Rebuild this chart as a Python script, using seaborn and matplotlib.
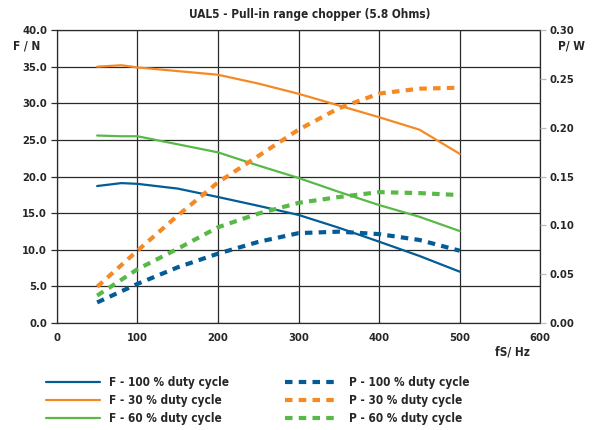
import matplotlib.pyplot as plt
import matplotlib as mpl
from matplotlib import font_manager
import pandas as pd
import seaborn as sns

sns.set_style("white")

# a narrow bold face is closest to the original DIN-like lettering
names = {f.name for f in font_manager.fontManager.ttflist}
narrow = [f for f in font_manager.fontManager.ttflist
          if f.name == 'DejaVu Sans' and f.stretch == 'condensed']
if 'Liberation Sans Narrow' in names:
    mpl.rcParams['font.family'] = ['Liberation Sans Narrow', 'DejaVu Sans']
elif narrow:
    mpl.rcParams['font.family'] = ['DejaVu Sans']
    mpl.rcParams['font.stretch'] = 'condensed'
else:
    mpl.rcParams['font.family'] = ['Roboto', 'DejaVu Sans']
mpl.rcParams['font.weight'] = 'bold'
mpl.rcParams['font.size'] = 8

# force curves (left axis, N)
freq_f = [50, 80, 100, 150, 200, 250, 300, 350, 400, 450, 500]
force_100 = [18.7, 19.1, 19.0, 18.35, 17.2, 16.0, 14.75, 13.0, 11.1, 9.15, 7.0]
force_30 = [35.0, 35.2, 34.9, 34.4, 33.9, 32.7, 31.3, 29.7, 28.1, 26.4, 23.1]
force_60 = [25.6, 25.5, 25.5, 24.4, 23.3, 21.5, 19.8, 17.9, 16.1, 14.5, 12.55]

# power curves (right axis, W)
freq_p = [50, 100, 150, 200, 250, 300, 350, 400, 450, 500]
power_100 = [0.021, 0.040, 0.057, 0.071, 0.083, 0.092, 0.0935, 0.091, 0.085, 0.074]
power_30 = [0.037, 0.074, 0.110, 0.144, 0.171, 0.198, 0.220, 0.235, 0.240, 0.241]
power_60 = [0.028, 0.055, 0.076, 0.098, 0.112, 0.123, 0.129, 0.134, 0.133, 0.131]

blue = '#035c96'
orange = '#f58a25'
green = '#58b947'

fig = plt.figure(figsize=(6.05, 4.3), dpi=100)
ax = fig.add_axes([0.094, 0.249, 0.799, 0.681])
ax2 = ax.twinx()

df_f = pd.DataFrame({'freq': freq_f, 'F100': force_100, 'F30': force_30, 'F60': force_60})
df_p = pd.DataFrame({'freq': freq_p, 'P100': power_100, 'P30': power_30, 'P60': power_60})

for col, c, lab in [('F100', blue, 'F - 100 % duty cycle'),
                    ('F30', orange, 'F - 30 % duty cycle'),
                    ('F60', green, 'F - 60 % duty cycle')]:
    sns.lineplot(data=df_f, x='freq', y=col, color=c, linewidth=1.6, ax=ax, label=lab)
for col, c, lab in [('P100', blue, 'P - 100 % duty cycle'),
                    ('P30', orange, 'P - 30 % duty cycle'),
                    ('P60', green, 'P - 60 % duty cycle')]:
    sns.lineplot(data=df_p, x='freq', y=col, color=c, linewidth=3.0, ax=ax2, label=lab)
for line in ax2.get_lines():
    line.set_dashes((1.8, 1.5))

h1, l1 = ax.get_legend_handles_labels()
h2, l2 = ax2.get_legend_handles_labels()
ax.get_legend().remove()
ax2.get_legend().remove()

ax.set_xlim(0, 600)
ax.set_ylim(0, 40)
ax2.set_ylim(0, 0.30)
ax.set_xticks(range(0, 601, 100))
ax.set_yticks([i * 5 for i in range(9)])
ax.set_yticklabels([f'{i * 5:.1f}' for i in range(9)])
ax2.set_yticks([i * 0.05 for i in range(7)])
ax2.set_yticklabels([f'{i * 0.05:.2f}' for i in range(7)])
ax.set_xlabel('')
ax.set_ylabel('')
ax2.set_ylabel('')

ax.grid(True, color='#2a2a2a', linewidth=0.9)
ax.set_axisbelow(True)
for sp in ax.spines.values():
    sp.set_color('#2a2a2a')
    sp.set_linewidth(0.9)
for sp in ax2.spines.values():
    sp.set_visible(False)
ax.tick_params(axis='both', direction='out', length=4, width=0.9, color='#2a2a2a', labelsize=8, pad=3)
ax2.tick_params(axis='y', direction='out', length=4, width=0.9, color='#bbbbbb', labelsize=8, pad=3)

fig.text(0.512, 0.967, 'UAL5 - Pull-in range chopper (5.8 Ohms)', fontsize=8.5,
         fontweight='bold', ha='center', va='center')
fig.text(0.022, 0.893, 'F / N', fontsize=8.5, fontweight='bold', ha='left', va='center')
fig.text(0.967, 0.893, 'P/ W', fontsize=8.5, fontweight='bold', ha='right', va='center')
fig.text(0.876, 0.181, 'fS/ Hz', fontsize=8.5, fontweight='bold', ha='right', va='center')

fig.legend(h1 + h2, l1 + l2, ncol=2, loc='lower left', bbox_to_anchor=(0.058, -0.014),
           frameon=False, fontsize=8.5, handlelength=4.6, handletextpad=0.8,
           columnspacing=4.7, labelspacing=0.45)

fig.savefig('out.png', dpi=100)
